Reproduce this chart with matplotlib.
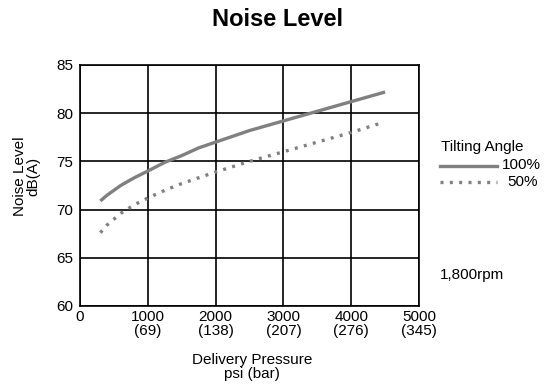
import matplotlib.pyplot as plt

plt.rcParams.update({'font.family': 'Liberation Sans'})

# Noise level vs delivery pressure
psi_full = [300, 400, 600, 800, 1000, 1250, 1500, 1750, 2000, 2500, 3000, 3500, 4000, 4500]
db_full = [70.9, 71.5, 72.5, 73.3, 74.0, 74.9, 75.6, 76.4, 77.0, 78.2, 79.2, 80.2, 81.2, 82.2]

psi_half = [300, 400, 600, 800, 1000, 1250, 1500, 1750, 2000, 2500, 3000, 3500, 4000, 4450]
db_half = [67.6, 68.4, 69.6, 70.5, 71.2, 72.0, 72.7, 73.3, 73.9, 75.0, 76.0, 77.0, 78.0, 79.0]

xticks = [0, 1000, 2000, 3000, 4000, 5000]
xticklabels = ['0', '1000\n(69)', '2000\n(138)', '3000\n(207)', '4000\n(276)', '5000\n(345)']
yticks = [60, 65, 70, 75, 80, 85]

fig = plt.figure(figsize=(5.58, 3.85), dpi=100)
ax = fig.add_axes([80/558, 1 - 306/385, 339/558, 241/385])

gray = '#808080'
dots = (0, (0.9, 1.9))
ax.plot(psi_full, db_full, color=gray, lw=2.4, solid_capstyle='butt')
ax.plot(psi_half, db_half, color=gray, lw=2.4, linestyle=dots, dash_capstyle='butt')

ax.set_xlim(0, 5000)
ax.set_ylim(60, 85)
ax.set_xticks(xticks)
ax.set_xticklabels(xticklabels, fontsize=11, linespacing=1.0)
ax.set_yticks(yticks)
ax.set_yticklabels([str(v) for v in yticks], fontsize=11)
ax.tick_params(axis='x', length=0, pad=3)
ax.tick_params(axis='y', length=0, pad=5)
ax.grid(True, color='black', lw=1.2)
for s in ax.spines.values():
    s.set_color('black')
    s.set_linewidth(1.2)

fig.text(278/558, 1 - 20/385, 'Noise Level', ha='center', va='center',
         fontsize=17, fontweight='bold')
fig.text(27/558, 1 - 176/385, 'Noise Level\ndB(A)', ha='center', va='center',
         rotation=90, fontsize=11, linespacing=0.95)
fig.text(252/558, 1 - 367/385, 'Delivery Pressure\npsi (bar)', ha='center',
         va='center', fontsize=11, linespacing=0.95)

# Legend drawn by hand on the right
fig.text(441/558, 1 - 147/385, 'Tilting Angle', ha='left', va='center', fontsize=11)
fig.lines.append(plt.Line2D([440/558, 497/558], [1 - 166/385, 1 - 166/385],
                            transform=fig.transFigure, color=gray, lw=2.4))
fig.lines.append(plt.Line2D([440/558, 497/558], [1 - 182/385, 1 - 182/385],
                            transform=fig.transFigure, color=gray, lw=2.4,
                            linestyle=dots))
fig.text(502/558, 1 - 165/385, '100%', ha='left', va='center', fontsize=11)
fig.text(507/558, 1 - 182/385, '50%', ha='left', va='center', fontsize=11)
fig.text(440/558, 1 - 275/385, '1,800rpm', ha='left', va='center', fontsize=11)

fig.savefig('out.png', dpi=100)
